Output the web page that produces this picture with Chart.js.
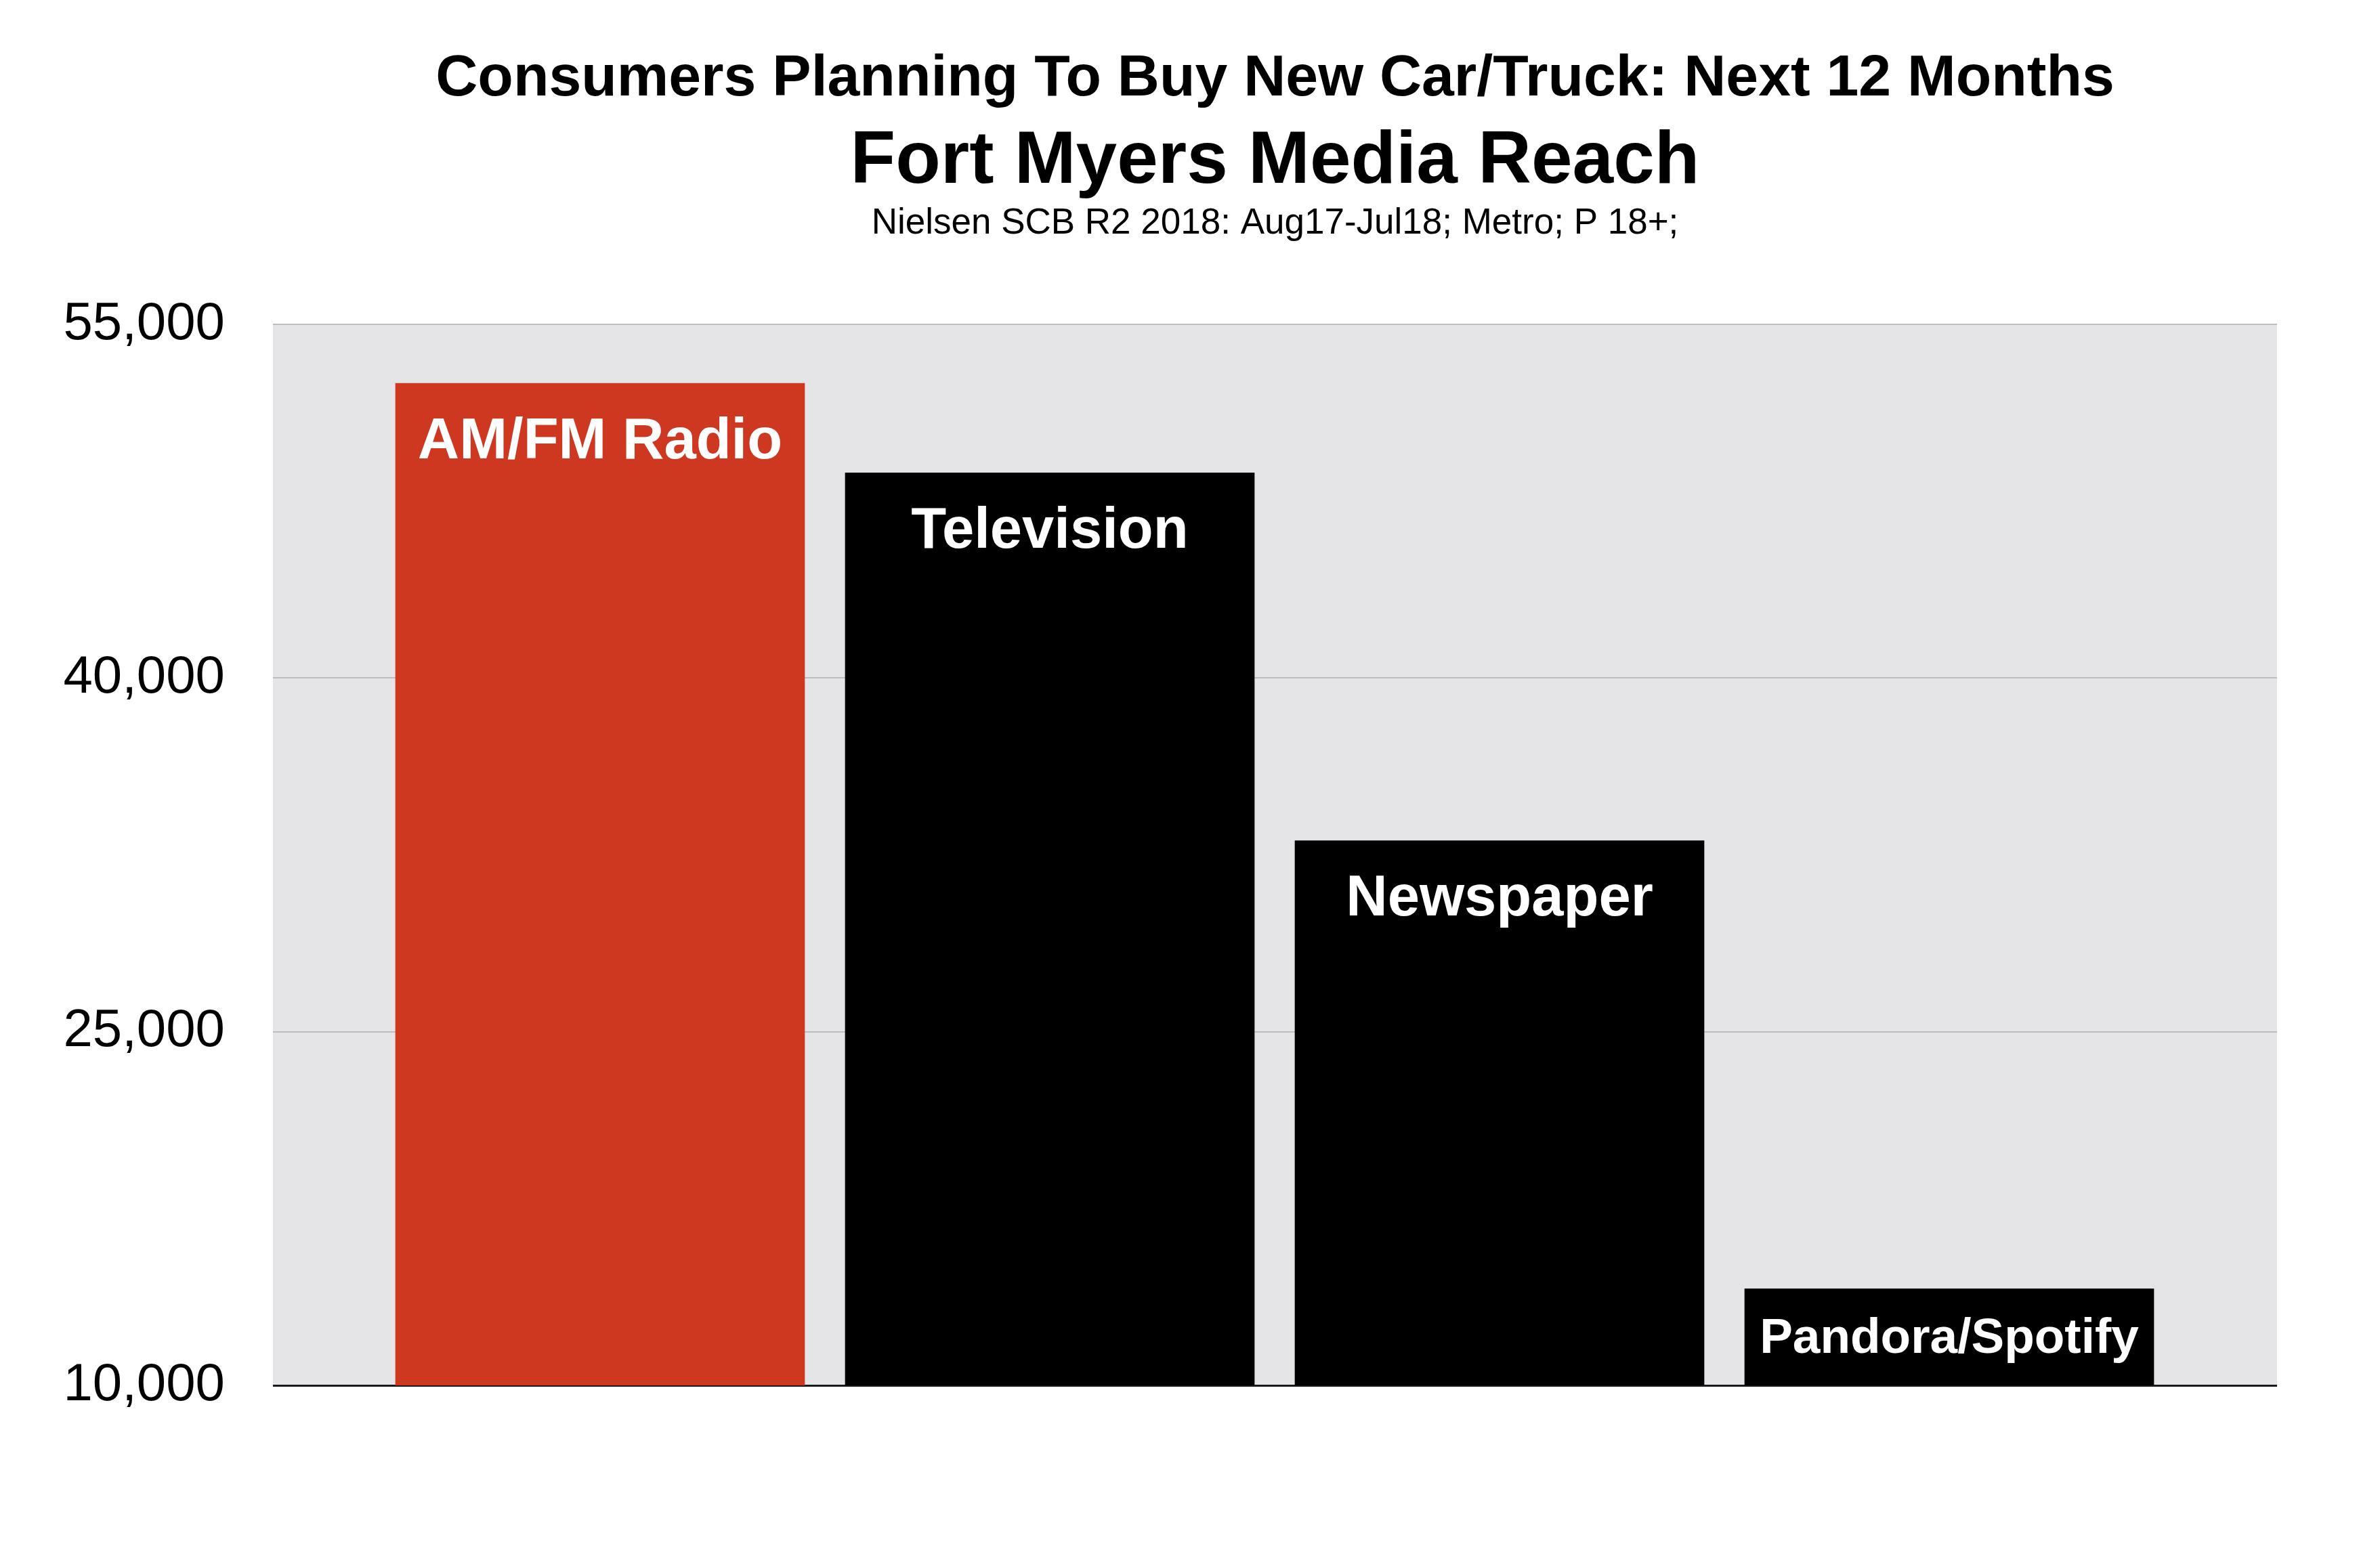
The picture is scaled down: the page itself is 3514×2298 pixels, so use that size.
<!DOCTYPE html>
<html>
<head>
<meta charset="utf-8">
<script src="https://cdn.jsdelivr.net/npm/chart.js@4"></script>
<style>
  html, body { margin: 0; padding: 0; background: #fff; }
  #wrap { width: 3514px; height: 2298px; }
</style>
</head>
<body>
<div id="wrap"><canvas id="reachChart" width="3514" height="2298"></canvas></div>
<script>
// values
const categories = ['AM/FM Radio', 'Television', 'Newspaper', 'Pandora/Spotify'];
const reach = [52500, 48700, 33100, 14100];
const yTicks = [10000, 25000, 40000, 55000];
const barColors = ['#cf3820', '#000000', '#000000', '#000000'];

const titleLines = [
    { text: 'Consumers Planning To Buy New Car/Truck: Next 12 Months', font: 'bold 86px "Liberation Sans"', y: 141 },
    { text: 'Fort Myers Media Reach', font: 'bold 109px "Liberation Sans"', y: 270 },
    { text: 'Nielsen SCB R2 2018: Aug17-Jul18; Metro; P 18+;', font: '53px "Liberation Sans"', y: 345 }
];

const FONT = '"Liberation Sans", Arial, sans-serif';

// grey plot background
const plotBg = {
    id: 'plotBg',
    beforeDraw(chart) {
        const { ctx, chartArea: a } = chart;
        ctx.save();
        ctx.fillStyle = '#e5e5e8';
        ctx.fillRect(a.left, a.top, a.right - a.left, a.bottom - a.top);
        ctx.restore();
    }
};

// headings centred over the plot
const headings = {
    id: 'headings',
    afterDraw(chart) {
        const { ctx, chartArea: a } = chart;
        const cx = (a.left + a.right) / 2;
        ctx.save();
        ctx.fillStyle = '#000';
        ctx.textAlign = 'center';
        ctx.textBaseline = 'alphabetic';
        titleLines.forEach(l => {
            ctx.font = l.font;
            ctx.fillText(l.text, cx, l.y);
        });
        ctx.restore();
    }
};

// white names inside the bars
const barNames = {
    id: 'barNames',
    afterDatasetsDraw(chart) {
        const { ctx } = chart;
        const meta = chart.getDatasetMeta(0);
        ctx.save();
        ctx.fillStyle = '#fff';
        ctx.textAlign = 'center';
        ctx.textBaseline = 'alphabetic';
        meta.data.forEach((bar, i) => {
            let size = 85;
            ctx.font = 'bold ' + size + 'px ' + FONT;
            const w = ctx.measureText(categories[i]).width;
            if (w > bar.width * 0.93) {
                size = Math.floor(size * bar.width * 0.93 / w);
                ctx.font = 'bold ' + size + 'px ' + FONT;
            }
            ctx.fillText(categories[i], bar.x, bar.y + size * 1.3);
        });
        ctx.restore();
    }
};

new Chart(document.getElementById('reachChart'), {
    type: 'bar',
    data: {
        datasets: [{
            data: reach.map((v, i) => ({ x: i, y: v })),
            backgroundColor: barColors,
            borderWidth: 0,
            barThickness: 604
        }]
    },
    options: {
        responsive: false,
        animation: false,
        devicePixelRatio: 1,
        layout: { padding: { top: 479, right: 152, bottom: 252, left: 0 } },
        plugins: {
            legend: { display: false },
            tooltip: { enabled: false },
            title: { display: false }
        },
        scales: {
            x: {
                type: 'linear',
                display: false,
                offset: false,
                min: -0.7274,
                max: 3.7289,
                afterBuildTicks: (scale) => { scale.ticks = categories.map((c, i) => ({ value: i })); }
            },
            y: {
                min: 10000,
                max: 55000,
                afterBuildTicks: (scale) => { scale.ticks = yTicks.map(v => ({ value: v })); },
                afterFit: (scale) => { scale.width = 403; },
                border: { display: false },
                grid: {
                    drawTicks: false,
                    color: (c) => c.tick && c.tick.value === 10000 ? '#1a1a1a' : '#bdbdbd',
                    lineWidth: (c) => c.tick && c.tick.value === 10000 ? 3 : 2
                },
                ticks: {
                    padding: 71,
                    color: '#000',
                    font: { family: FONT, size: 78 },
                    callback: (v) => Number(v).toLocaleString('en-US')
                }
            }
        }
    },
    plugins: [plotBg, headings, barNames]
});
</script>
</body>
</html>
